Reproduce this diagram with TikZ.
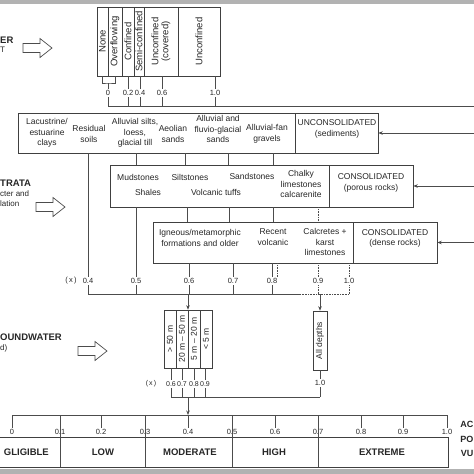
\documentclass[tikz,border=0pt]{standalone}
\usepackage{fontspec}
\setmainfont{Liberation Sans}
\usepackage{graphicx}
\usetikzlibrary{arrows.meta, positioning, calc}
\tikzset{
    base/.style = {inner sep=0pt, text=black!85},
    box/.style = {draw=black!75, line width=0.6pt, inner sep=0pt},
    col/.style = {box, text=black!85, font=\fontsize{9.5}{10}\selectfont},
    dcol/.style = {box, text=black!85, font=\fontsize{8.5}{9}\selectfont},
    kind/.style = {base, align=center, font=\fontsize{8.5}{10.5}\selectfont},
    num/.style = {base, inner sep=1.5pt, font=\fontsize{7.5}{9}\selectfont},
    dnum/.style = {base, inner sep=1.5pt, font=\fontsize{7}{8}\selectfont},
    cat/.style = {base, font=\bfseries\fontsize{9.5}{11}\selectfont},
    side/.style = {base, anchor=west, font=\bfseries\fontsize{9.5}{11}\selectfont},
    sidenote/.style = {base, anchor=west, font=\fontsize{8}{10}\selectfont},
    link/.style = {draw=black!70, line width=0.6pt},
    dotlink/.style = {link, densely dotted},
    feed/.style = {link, -{Stealth[length=4.5pt, width=3.5pt]}},
    pics/hollow/.style = {code={
        \draw[draw=black!70, line width=0.7pt, fill=white]
            (0,-4.5) -- (17,-4.5) -- (17,-9.5) -- (29,0) -- (17,9.5) -- (17,4.5) -- (0,4.5) -- cycle;
    }}
}
\begin{document}
\begin{tikzpicture}[x=1pt, y=-1pt]
    \clip (0,0) rectangle (474,474);
    \fill[black!30] (0,0) rectangle (474,4);
    \fill[black!30] (0,469) rectangle (474,474);

    % Occurrence
    \node[side] (occ-a) at (0,40) {ER};
    \node[sidenote] (occ-b) at (0,50) {T};
    \pic (occ-arrow) at (23,48) {hollow};

    \node[col, minimum width=11pt, minimum height=69pt] (none) at (102.5,41.5) {\rotatebox{90}{None}};
    \node[col, minimum width=14pt, minimum height=69pt] (over) at (115,41.5) {\rotatebox{90}{Overflowing}};
    \node[col, minimum width=12pt, minimum height=69pt] (conf) at (128,41.5) {\rotatebox{90}{Confined}};
    \node[col, minimum width=10pt, minimum height=69pt] (semi) at (139,41.5) {\rotatebox{90}{Semi-confined}};
    \node[col, minimum width=34pt, minimum height=69pt] (uncov) at (161,41.5) {\rotatebox{90}{\shortstack{Unconfined\\(covered)}}};
    \node[col, minimum width=42pt, minimum height=69pt] (unconf) at (199,41.5) {\rotatebox{90}{Unconfined}};

    \foreach \n/\x/\v in {a/108/0, b/128/0.2, c/140/0.4, d/162/0.6, e/215/1.0}
        \node[num] (o-\n) at (\x,93) {\v};
    \coordinate (obar) at (0,106);
    \coordinate (oend) at (474,106);
    \coordinate (brk) at (108,83);
    \draw[link] (none.south) |- (brk) -| (over.south);
    \draw[link] (brk) -- (o-a.north);
    \draw[link] (o-b.north |- conf.south) -- (o-b.north);
    \draw[link] (o-c.north |- semi.south) -- (o-c.north);
    \draw[link] (o-d.north |- uncov.south) -- (o-d.north);
    \draw[link] (o-e.north |- unconf.south) -- (o-e.north);
    \foreach \n in {a,...,e}
        \draw[link] (o-\n.south) -- (o-\n.south |- obar);
    \draw[link] (o-a.south |- obar) -- (oend);

    % Strata
    \node[side] (strata) at (0,183) {TRATA};
    \node[sidenote] (strata-b) at (0,194) {cter and};
    \node[sidenote] (strata-c) at (0,204) {lation};
    \pic (strata-arrow) at (36,207) {hollow};

    \node[box, minimum width=360pt, minimum height=40pt] (uncon) at (198,133) {};
    \node[box, minimum width=83pt, minimum height=40pt] (unconhead-box) at (336.5,133) {};
    \node[kind] (unconhead) at (337,129) {UNCONSOLIDATED\\(sediments)};
    \node[kind] (lac) at (47,133) {Lacustrine/\\estuarine\\clays};
    \node[kind] (res) at (89,134) {Residual\\soils};
    \node[kind] (silt) at (135,133) {Alluvial silts,\\loess,\\glacial till};
    \node[kind] (aeol) at (173,134) {Aeolian\\sands};
    \node[kind] (fluv) at (218,129) {Alluvial and\\fluvio-glacial\\sands};
    \node[kind] (fan) at (267,134) {Alluvial-fan\\gravels};
    \coordinate (feed-u) at (474,133);
    \draw[feed] (feed-u) -- (uncon.east);

    \node[box, minimum width=303pt, minimum height=42pt] (porous) at (261.5,186) {};
    \node[box, minimum width=84pt, minimum height=42pt] (poroushead-box) at (371,186) {};
    \node[kind] (poroushead) at (371,183) {CONSOLIDATED\\(porous rocks)};
    \node[kind] (mud) at (138,177) {Mudstones};
    \node[kind] (silts) at (190,177) {Siltstones};
    \node[kind] (sand) at (252,176) {Sandstones};
    \node[kind] (shale) at (148,192) {Shales};
    \node[kind] (tuff) at (216,192) {Volcanic tuffs};
    \node[kind] (chalk) at (301,184) {Chalky\\limestones\\calcarenite};
    \coordinate (feed-p) at (474,186);
    \draw[feed] (feed-p) -- (porous.east);

    \node[box, minimum width=284pt, minimum height=41pt] (dense) at (295,242.5) {};
    \node[box, minimum width=84pt, minimum height=41pt] (densehead-box) at (395,242.5) {};
    \node[kind] (densehead) at (395,238.5) {CONSOLIDATED\\(dense rocks)};
    \node[kind] (igneous) at (200,238) {Igneous/metamorphic\\formations and older};
    \node[kind] (recent) at (273,237) {Recent\\volcanic};
    \node[kind] (calcrete) at (325,242) {Calcretes +\\karst\\limestones};
    \coordinate (feed-d) at (474,242.5);
    \draw[feed] (feed-d) -- (dense.east);

    \foreach \n/\x in {u1/136, u2/185, u3/228, u4/273} {
        \coordinate (\n) at (\x,0);
        \draw[link] (\n |- uncon.south) -- (\n |- porous.north);
    }
    \foreach \n/\x in {p1/187, p2/229, p3/273} {
        \coordinate (\n) at (\x,0);
        \draw[link] (\n |- porous.south) -- (\n |- dense.north);
    }
    \coordinate (p4) at (318,0);
    \draw[dotlink] (p4 |- porous.south) -- (p4 |- dense.north);

    \node[num] (sx) at (71,281) {(\,x\,)};
    \foreach \n/\x/\v in {s4/88/0.4, s5/136/0.5, s6/189/0.6, s7/233/0.7, s8/272/0.8, s9/318/0.9, s10/349/1.0}
        \node[num] (\n) at (\x,281) {\v};
    \draw[link] (s4.north |- uncon.south) -- (s4.north);
    \draw[link] (s5.north |- porous.south) -- (s5.north);
    \foreach \n in {s6,s7,s8}
        \draw[link] (\n.north |- dense.south) -- (\n.north);
    \coordinate (s8b) at (277,0);
    \draw[dotlink] (s8b |- dense.south) -- (s8b |- s8.north);
    \foreach \n in {s9,s10}
        \draw[dotlink] (\n.north |- dense.south) -- (\n.north);
    \coordinate (sbar) at (0,294);
    \coordinate (sdot) at (300,294);
    \foreach \n in {s4,s5,s6,s7,s8}
        \draw[link] (\n.south) -- (\n.south |- sbar);
    \foreach \n in {s9,s10}
        \draw[dotlink] (\n.south) -- (\n.south |- sbar);
    \draw[link] (s4.south |- sbar) -- (sdot);
    \draw[dotlink] (sdot) -- (s10.south |- sbar);

    % Depth
    \node[side] (gw) at (0,337) {OUNDWATER};
    \node[sidenote] (gw-note) at (0,348) {d)};
    \pic (gw-arrow) at (78,351) {hollow};

    \node[box, minimum width=48pt, minimum height=58pt] (depth) at (188,339) {};
    \node[dcol, minimum width=12pt, minimum height=58pt] (dc1) at (170,339) {\rotatebox{90}{> 50 m}};
    \node[dcol, minimum width=12pt, minimum height=58pt] (dc2) at (182,339) {\rotatebox{90}{20 m -- 50 m}};
    \node[dcol, minimum width=12pt, minimum height=58pt] (dc3) at (194,339) {\rotatebox{90}{5 m -- 20 m}};
    \node[dcol, minimum width=12pt, minimum height=58pt] (dc4) at (206,339) {\rotatebox{90}{< 5 m}};
    \node[dcol, minimum width=14pt, minimum height=59pt] (alld) at (320,340.5) {\rotatebox{90}{All depths}};
    \draw[feed] (depth.north |- sbar) -- (depth.north);
    \draw[feed] (alld.north |- sbar) -- (alld.north);

    \node[dnum] (dx) at (151,384) {(\,x\,)};
    \foreach \n/\x/\v in {d6/171/0.6, d7/182/0.7, d8/194/0.8, d9/205/0.9}
        \node[dnum] (\n) at (\x,384) {\v};
    \node[num] (d10) at (320,383) {1.0};
    \draw[link] (d6.north |- dc1.south) -- (d6.north);
    \draw[link] (d7.north |- dc2.south) -- (d7.north);
    \draw[link] (d8.north |- dc3.south) -- (d8.north);
    \draw[link] (d9.north |- dc4.south) -- (d9.north);
    \draw[link] (alld.south) -- (d10.north);
    \coordinate (dbar) at (0,397);
    \foreach \n in {d6,d7,d8,d9,d10}
        \draw[link] (\n.south) -- (\n.south |- dbar);
    \draw[link] (d6.south |- dbar) -- (d10.south |- dbar);

    % Vulnerability scale
    \coordinate (scl) at (0,415);
    \foreach \n/\x/\v in {v0/12/0, v1/60/0.1, v2/101/0.2, v3/145/0.3, v4/188/0.4, v5/232/0.5, v6/275/0.6, v7/318/0.7, v8/361/0.8, v9/403/0.9, v10/447/1.0}
        \node[num] (\n) at (\x,432) {\v};
    \draw[link] (v0.north |- scl) -- (v10.north |- scl);
    \foreach \n in {v0,v2,v4,v6,v8,v9,v10}
        \draw[link] (\n.north |- scl) -- (\n.north);
    \node[box, minimum width=455pt, minimum height=30pt] (vuln) at (220.5,452) {};
    \foreach \n in {v1,v3,v5,v7}
        \draw[link] (\n.north |- scl) -- (\n.north |- vuln.south);
    \draw[feed] (depth.south |- dbar) -- (v4.north |- scl);

    \node[cat, anchor=east] (negl) at (49,452) {GLIGIBLE};
    \node[cat] (low) at (103,452) {LOW};
    \node[cat] (mod) at (190,452) {MODERATE};
    \node[cat] (high) at (274,452) {HIGH};
    \node[cat] (ext) at (382,452) {EXTREME};
    \node[side, anchor=east, font=\bfseries\fontsize{9}{11}\selectfont] (ac) at (473.5,424) {AC};
    \node[side, anchor=east, font=\bfseries\fontsize{9}{11}\selectfont] (po) at (473.5,439) {PO};
    \node[side, anchor=east, font=\bfseries\fontsize{9}{11}\selectfont] (vu) at (473.5,453) {VU};
\end{tikzpicture}
\end{document}
